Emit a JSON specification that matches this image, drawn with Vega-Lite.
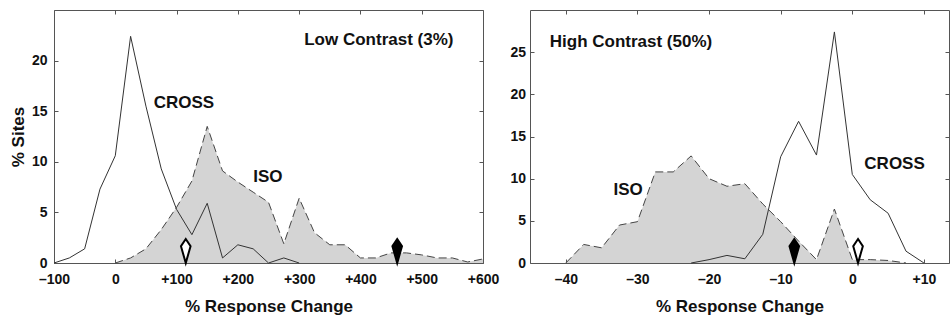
{
  "$schema": "https://vega.github.io/schema/vega-lite/v6.json",
  "padding": {"left": 8, "top": 9, "right": 0, "bottom": 0},
  "spacing": 9,
  "background": "white",
  "config": {
    "view": {"stroke": "#555", "strokeWidth": 1},
    "font": "Liberation Sans",
    "axis": {
      "domain": false,
      "grid": false,
      "ticks": true,
      "tickSize": -4,
      "tickColor": "#555",
      "tickWidth": 1,
      "labelFont": "Liberation Sans",
      "labelFontSize": 14,
      "labelFontWeight": "bold",
      "labelColor": "#111",
      "labelFlush": false,
      "labelOverlap": false,
      "titleFont": "Liberation Sans",
      "titleFontSize": 17,
      "titleFontWeight": "bold",
      "titleColor": "#111"
    }
  },
  "datasets": {
    "leftISO": [
      {"x": 0, "v": 0}, {"x": 25, "v": 0.5}, {"x": 50, "v": 1.4}, {"x": 75, "v": 3.3},
      {"x": 100, "v": 5.5}, {"x": 125, "v": 8.1}, {"x": 150, "v": 13.5}, {"x": 175, "v": 9.1},
      {"x": 200, "v": 8.0}, {"x": 225, "v": 7.0}, {"x": 250, "v": 6.0}, {"x": 275, "v": 1.9},
      {"x": 300, "v": 6.4}, {"x": 325, "v": 3.0}, {"x": 350, "v": 1.8}, {"x": 375, "v": 1.8},
      {"x": 400, "v": 0.5}, {"x": 425, "v": 0.5}, {"x": 450, "v": 1.0}, {"x": 475, "v": 1.0},
      {"x": 500, "v": 0.8}, {"x": 525, "v": 0.5}, {"x": 550, "v": 0.5}, {"x": 575, "v": 0.1},
      {"x": 600, "v": 0.4}
    ],
    "leftCROSS": [
      {"x": -100, "v": 0}, {"x": -75, "v": 0.5}, {"x": -50, "v": 1.4}, {"x": -25, "v": 7.3},
      {"x": 0, "v": 10.6}, {"x": 25, "v": 22.4}, {"x": 50, "v": 15.5}, {"x": 75, "v": 9.3},
      {"x": 100, "v": 5.3}, {"x": 125, "v": 2.8}, {"x": 150, "v": 5.9}, {"x": 175, "v": 0.5},
      {"x": 200, "v": 1.8}, {"x": 225, "v": 1.4}, {"x": 250, "v": 0}, {"x": 275, "v": 0.5},
      {"x": 300, "v": 0}
    ],
    "leftMarks": [
      {"x": 115, "type": "open"}, {"x": 460, "type": "filled"}
    ],
    "leftText": [
      {"label": "Low Contrast (3%)", "x": 430, "y": 22.0},
      {"label": "CROSS", "x": 112, "y": 15.8},
      {"label": "ISO", "x": 249, "y": 8.5}
    ],
    "rightISO": [
      {"x": -40, "v": 0}, {"x": -37.5, "v": 2.2}, {"x": -35, "v": 1.8}, {"x": -32.5, "v": 4.5},
      {"x": -30, "v": 4.9}, {"x": -27.5, "v": 10.8}, {"x": -25, "v": 10.8}, {"x": -22.5, "v": 12.7},
      {"x": -20, "v": 10.0}, {"x": -17.5, "v": 9.1}, {"x": -15, "v": 9.4}, {"x": -12.5, "v": 7.0},
      {"x": -10, "v": 4.9}, {"x": -7.5, "v": 2.6}, {"x": -5, "v": 0.4}, {"x": -2.5, "v": 6.4},
      {"x": 0, "v": 0.4}, {"x": 2.5, "v": 0.4}, {"x": 5, "v": 0.3}, {"x": 7.5, "v": 0}
    ],
    "rightCROSS": [
      {"x": -22.5, "v": 0}, {"x": -20, "v": 0.4}, {"x": -17.5, "v": 0.9}, {"x": -15, "v": 0.5},
      {"x": -12.5, "v": 3.4}, {"x": -10, "v": 12.6}, {"x": -7.5, "v": 16.8}, {"x": -5, "v": 12.8},
      {"x": -2.5, "v": 27.4}, {"x": 0, "v": 10.5}, {"x": 2.5, "v": 7.5}, {"x": 5, "v": 5.9},
      {"x": 7.5, "v": 1.4}, {"x": 10, "v": 0}
    ],
    "rightMarks": [
      {"x": -8.1, "type": "filled"}, {"x": 0.8, "type": "open"}
    ],
    "rightText": [
      {"label": "High Contrast (50%)", "x": -30.9, "y": 26.2},
      {"label": "ISO", "x": -31.3, "y": 8.66},
      {"label": "CROSS", "x": 5.9, "y": 11.74}
    ]
  },
  "hconcat": [
    {
      "width": 429,
      "height": 253,
      "layer": [
        {
          "data": {"name": "leftISO"},
          "mark": {"type": "area", "color": "#d4d4d4", "interpolate": "linear"},
          "encoding": {
            "x": {"field": "x", "type": "quantitative",
              "scale": {"domain": [-100, 600], "nice": false, "zero": false},
              "axis": {"orient": "bottom", "values": [-100, 0, 100, 200, 300, 400, 500, 600],
                "labelExpr": "datum.value > 0 ? '+' + datum.value : (datum.value < 0 ? '–' + abs(datum.value) : '0')",
                "labelPadding": 13, "title": "% Response Change", "titlePadding": 12}},
            "y": {"field": "v", "type": "quantitative",
              "scale": {"domain": [0, 25], "nice": false},
              "axis": {"orient": "left", "values": [0, 5, 10, 15, 20], "labelPadding": 11,
                "title": "% Sites", "titlePadding": 4}}
          }
        },
        {
          "data": {"name": "leftISO"},
          "mark": {"type": "line", "color": "#444", "strokeWidth": 1, "strokeDash": [8, 4]},
          "encoding": {
            "x": {"field": "x", "type": "quantitative", "axis": null},
            "y": {"field": "v", "type": "quantitative", "axis": null}
          }
        },
        {
          "data": {"name": "leftCROSS"},
          "mark": {"type": "line", "color": "#333", "strokeWidth": 1},
          "encoding": {
            "x": {"field": "x", "type": "quantitative", "axis": null},
            "y": {"field": "v", "type": "quantitative", "axis": null}
          }
        },
        {
          "data": {"name": "leftMarks"},
          "mark": {"type": "point", "shape": "M0,-2L0.4,-1.4L0,0L-0.4,-1.4Z", "size": 576, "filled": true, "opacity": 1, "stroke": "#000", "strokeWidth": 2},
          "encoding": {
            "x": {"field": "x", "type": "quantitative", "axis": null},
            "y": {"datum": 0, "type": "quantitative", "axis": null},
            "color": {"field": "type", "type": "nominal", "scale": {"domain": ["open", "filled"], "range": ["#ffffff", "#000000"]}, "legend": null}
          }
        },
        {
          "data": {"name": "leftText"},
          "mark": {"type": "text", "fontSize": 17, "fontWeight": "bold", "font": "Liberation Sans", "color": "#111", "baseline": "middle", "align": "center"},
          "encoding": {
            "x": {"field": "x", "type": "quantitative",
              "axis": {"orient": "top", "values": [-100, 0, 100, 200, 300, 400, 500, 600], "labels": false, "title": null}},
            "y": {"field": "y", "type": "quantitative",
              "axis": {"orient": "right", "values": [0, 5, 10, 15, 20], "labels": false, "title": null}},
            "text": {"field": "label"}
          }
        }
      ]
    },
    {
      "width": 419,
      "height": 253,
      "layer": [
        {
          "data": {"name": "rightISO"},
          "mark": {"type": "area", "color": "#d4d4d4", "interpolate": "linear"},
          "encoding": {
            "x": {"field": "x", "type": "quantitative",
              "scale": {"domain": [-45, 13.5], "nice": false, "zero": false},
              "axis": {"orient": "bottom", "values": [-40, -30, -20, -10, 0, 10],
                "labelExpr": "datum.value > 0 ? '+' + datum.value : (datum.value < 0 ? '–' + abs(datum.value) : '0')",
                "labelPadding": 13, "title": "% Response Change", "titlePadding": 12}},
            "y": {"field": "v", "type": "quantitative",
              "scale": {"domain": [0, 30], "nice": false},
              "axis": {"orient": "left", "values": [0, 5, 10, 15, 20, 25], "labelPadding": 8.5, "title": null}}
          }
        },
        {
          "data": {"name": "rightISO"},
          "mark": {"type": "line", "color": "#444", "strokeWidth": 1, "strokeDash": [8, 4]},
          "encoding": {
            "x": {"field": "x", "type": "quantitative", "axis": null},
            "y": {"field": "v", "type": "quantitative", "axis": null}
          }
        },
        {
          "data": {"name": "rightCROSS"},
          "mark": {"type": "line", "color": "#333", "strokeWidth": 1},
          "encoding": {
            "x": {"field": "x", "type": "quantitative", "axis": null},
            "y": {"field": "v", "type": "quantitative", "axis": null}
          }
        },
        {
          "data": {"name": "rightMarks"},
          "mark": {"type": "point", "shape": "M0,-2L0.4,-1.4L0,0L-0.4,-1.4Z", "size": 576, "filled": true, "opacity": 1, "stroke": "#000", "strokeWidth": 2},
          "encoding": {
            "x": {"field": "x", "type": "quantitative", "axis": null},
            "y": {"datum": 0, "type": "quantitative", "axis": null},
            "color": {"field": "type", "type": "nominal", "scale": {"domain": ["open", "filled"], "range": ["#ffffff", "#000000"]}, "legend": null}
          }
        },
        {
          "data": {"name": "rightText"},
          "mark": {"type": "text", "fontSize": 17, "fontWeight": "bold", "font": "Liberation Sans", "color": "#111", "baseline": "middle", "align": "center"},
          "encoding": {
            "x": {"field": "x", "type": "quantitative",
              "axis": {"orient": "top", "values": [-40, -30, -20, -10, 0, 10], "labels": false, "title": null}},
            "y": {"field": "y", "type": "quantitative",
              "axis": {"orient": "right", "values": [0, 5, 10, 15, 20, 25], "labels": false, "title": null}},
            "text": {"field": "label"}
          }
        }
      ]
    }
  ],
  "resolve": {"scale": {"color": "independent"}}
}
